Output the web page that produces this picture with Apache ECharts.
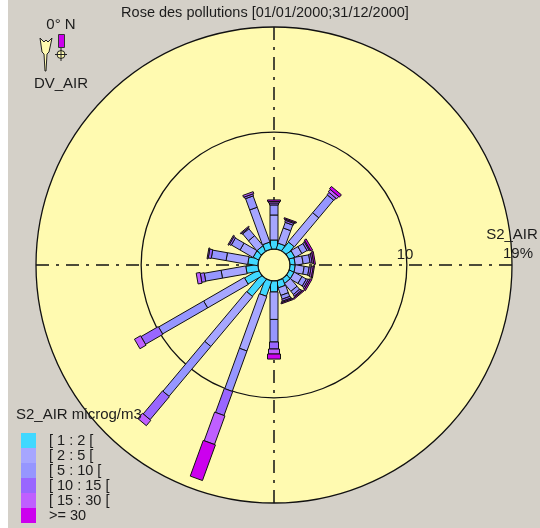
<!DOCTYPE html>
<html>
<head>
<meta charset="utf-8">
<style>html,body{margin:0;padding:0;background:#fff}#c{width:540px;height:528px}</style>
<script src="https://cdn.jsdelivr.net/npm/echarts@6/dist/echarts.min.js"></script>
</head>
<body>
<div id="c"></div>
<script>
const directions = [0,20,40,60,80,100,120,140,160,180,200,220,240,260,280,300,320,340];
const classNames = ['[ 1 : 2 [','[ 2 : 5 [','[ 5 : 10 [','[ 10 : 15 [','[ 15 : 30 [','>= 30'];
const class1 = [.77,.51,.94,.51,.43,.43,.43,.43,.60,.94,1.37,1.88,1.37,1.03,.86,.51,.51,.60];
const class2 = [2.14,1.37,3.25,.68,.68,.77,.77,.86,.68,2.35,4.97,5.57,4.02,2.14,1.88,1.28,1.11,3.17];
const class3 = [.86,.51,1.97,.51,.60,.43,.43,.34,.34,1.93,3.68,5.57,4.45,1.46,1.28,.86,.77,1.03];
const class4 = [.17,.17,.26,.17,.17,.17,.17,.17,.17,.60,2.18,2.57,1.71,.34,.26,.17,.09,.17];
const class5 = [.13,.09,.26,.09,.13,.17,.13,.09,.09,.43,2.61,.60,.60,.34,.09,.09,.09,.17];
const class6 = [.13,.09,.26,.17,.13,.09,.13,.09,.09,.43,3.25,0,0,0,0,0,0,0];
const radiusTicks = [0,10,19];
const spokes = [0,90,180,270];

const classes = [class1,class2,class3,class4,class5,class6];
const colors = ['#40D8FF','#A6A6FF','#9696FF','#9966FF','#BF5FFF','#CC00EE'];
const barWidths = [7,8,8,9,11,13];
const font = '"Liberation Sans", Arial, sans-serif';
const ink = '#1c1c1c';

const running = directions.map(() => 0);
const classSeries = classes.map((vals, k) => {
  const rows = [];
  vals.forEach((v, i) => {
    if (v > 0) rows.push([running[i], directions[i], running[i] + v]);
    running[i] += v;
  });
  return {
    type: 'custom', name: classNames[k], coordinateSystem: 'polar', silent: true,
    itemStyle: {color: colors[k]}, z: 5,
    encode: {radius: [0, 2], angle: 1},
    data: rows,
    renderItem(params, api) {
      const a = api.coord([api.value(0), api.value(1)]);
      const b = api.coord([api.value(2), api.value(1)]);
      const dx = b[0] - a[0], dy = b[1] - a[1], len = Math.hypot(dx, dy) || 1;
      const w = barWidths[k] / 2, nx = -dy / len * w, ny = dx / len * w;
      return {type: 'polygon',
        shape: {points: [[a[0]+nx,a[1]+ny],[b[0]+nx,b[1]+ny],[b[0]-nx,b[1]-ny],[a[0]-nx,a[1]-ny]]},
        style: {fill: colors[k], stroke: '#111', lineWidth: 1}};
    }
  };
});

const text = (t, x, y, size, align) => ({type: 'text', x, y, silent: true, z: 20,
  style: {text: t, fill: ink, font: size + 'px ' + font, textAlign: align || 'left', textVerticalAlign: 'middle'}});

const option = {
  animation: false,
  backgroundColor: '#D4D0C8',
  title: {text: 'Rose des pollutions [01/01/2000;31/12/2000]', left: 260, top: 0, textAlign: 'center',
    textStyle: {fontFamily: font, fontSize: 14.5, fontWeight: 'normal', color: ink}},
  polar: {center: [274, 265], radius: [16, 238]},
  angleAxis: {type: 'value', min: 0, max: 360, startAngle: 90, clockwise: true,
    axisLine: {show: false}, axisTick: {show: false}, axisLabel: {show: false}, splitLine: {show: false}},
  radiusAxis: {type: 'value', min: radiusTicks[0], max: radiusTicks[2], interval: radiusTicks[1],
    axisLine: {show: false}, axisTick: {show: false}, axisLabel: {show: false},
    splitLine: {show: true, lineStyle: {color: '#111', width: 1.3}}},
  legend: {data: classNames, orient: 'vertical', left: 21, top: 433, height: 95, padding: 0,
    itemWidth: 15, itemHeight: 15, itemGap: 0, icon: 'rect', selectedMode: false,
    textStyle: {fontFamily: font, fontSize: 14.5, color: ink, padding: [0, 0, 0, 8], lineHeight: 15}},
  graphic: [
    {type: 'rect', shape: {x: 0, y: 0, width: 8, height: 528}, style: {fill: '#fff'}, silent: true, z: 20},
    text('S2_AIR microg/m3', 16, 415, 15),
    text('0° N', 61, 25, 15, 'center'),
    text('DV_AIR', 61, 84, 15, 'center'),
    {type: 'polygon', silent: true, z: 20,
      shape: {points: [[40,38],[44,42],[46,40],[48,42],[52,38],[49,52],[47,54],[46,71],[45,71],[44,54],[42,52]]},
      style: {fill: '#FFFAB0', stroke: '#222', lineWidth: 1}},
    {type: 'rect', silent: true, z: 20, shape: {x: 58.5, y: 34.5, width: 6, height: 13},
      style: {fill: '#CC00EE', stroke: '#333', lineWidth: 1}},
    {type: 'circle', silent: true, z: 20, shape: {cx: 61, cy: 54.5, r: 4},
      style: {fill: '#FFFAB0', stroke: '#222', lineWidth: 1}},
    {type: 'line', silent: true, z: 21, shape: {x1: 55, y1: 54.5, x2: 67, y2: 54.5}, style: {stroke: '#222', lineWidth: 1}},
    {type: 'line', silent: true, z: 21, shape: {x1: 61, y1: 48, x2: 61, y2: 61}, style: {stroke: '#222', lineWidth: 1}},
    text('10', 405, 255, 15, 'center'),
    text('S2_AIR', 512, 235, 15, 'center'),
    text('19%', 518, 254, 15, 'center')
  ],
  series: [
    {type: 'custom', name: 'disc', coordinateSystem: 'polar', silent: true, z: -1,
      data: [[radiusTicks[2], 0]],
      renderItem(params, api) {
        const cs = params.coordSys;
        return {type: 'circle', shape: {cx: cs.cx, cy: cs.cy, r: cs.r}, style: {fill: '#FFFAB0'}};
      }},
    {type: 'custom', name: 'spokes', coordinateSystem: 'polar', silent: true, z: 3,
      data: spokes.map(a => [radiusTicks[2], a]),
      renderItem(params, api) {
        const a = api.coord([0, api.value(1)]);
        const b = api.coord([api.value(0), api.value(1)]);
        return {type: 'line', shape: {x1: b[0], y1: b[1], x2: a[0], y2: a[1]},
          style: {stroke: '#111', lineWidth: 1.5, lineDash: [13, 7, 3, 7]}};
      }},
    ...classSeries
  ]
};
const chart = echarts.init(document.getElementById('c'), null, {renderer: 'canvas'});
chart.setOption(option);
</script>
</body>
</html>
